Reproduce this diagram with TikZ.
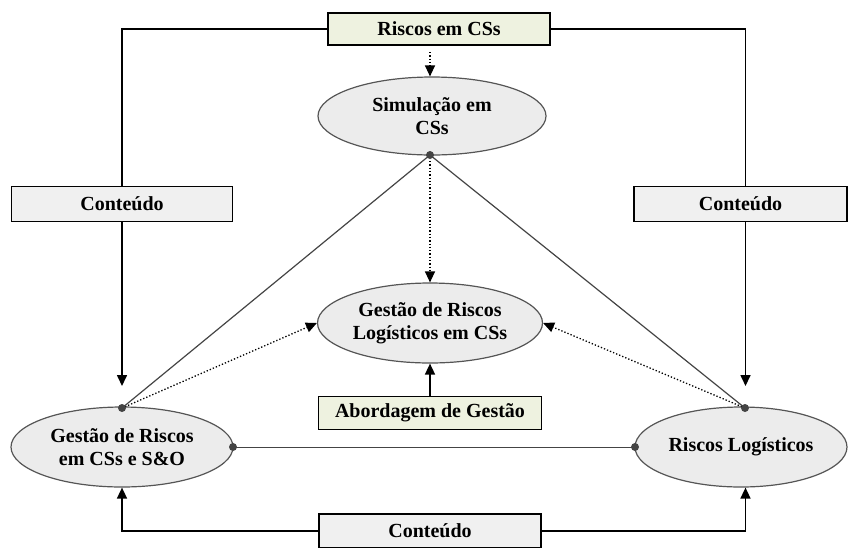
\documentclass[tikz,border=0pt]{standalone}
\usepackage{fontspec}
\setmainfont{Liberation Serif}
\usetikzlibrary{shapes.geometric,arrows.meta}
\definecolor{boxgreen}{HTML}{EEF2E0}
\definecolor{boxgray}{HTML}{F0F0F0}
\definecolor{ellfill}{HTML}{ECECEC}
\definecolor{ellline}{HTML}{555555}
\definecolor{linkgray}{HTML}{444444}
\begin{document}
\begin{tikzpicture}[x=1pt,y=-1pt,
  every node/.style={font=\fontsize{20}{23}\selectfont\bfseries, align=center},
  topic/.style={ellipse, draw=ellline, line width=1.2pt, fill=ellfill, inner sep=0pt},
  labelbox/.style={rectangle, draw=black, line width=1.6pt, inner sep=0pt, minimum height=33pt},
  greenbox/.style={labelbox, fill=boxgreen},
  graybox/.style={labelbox, fill=boxgray},
  flow/.style={line width=1.6pt, draw=black, -{Triangle[length=11pt,width=10pt]}},
  plainflow/.style={line width=1.6pt, draw=black},
  hint/.style={dotted, line width=1.3pt, draw=black, -{Triangle[length=11pt,width=10pt]}},
  link/.style={line width=1.2pt, draw=linkgray},
  joint/.style={circle, fill=linkgray, inner sep=0pt, minimum size=8pt}
]
\useasboundingbox (0,0) rectangle (848,547);

% themes
\node[topic, minimum width=228pt, minimum height=78pt] (sim) at (432,116) {Simulação em\\CSs};
\node[topic, minimum width=225pt, minimum height=80pt] (core) at (430,323) {Gestão de Riscos\\Logísticos em CSs};
\node[topic, minimum width=222pt, minimum height=80pt] (left) at (122,447) {Gestão de Riscos\\em CSs e S\&O};
\node[topic, minimum width=212pt, minimum height=80pt] (right) at (741,447) {Riscos Logísticos};

% labels
\node[greenbox, minimum width=222pt, minimum height=32pt] (risk) at (439,29) {Riscos em CSs};
\node[greenbox, minimum width=223pt] (appr) at (430,413) {Abordagem de Gestão};
\node[graybox, minimum width=221pt, minimum height=35pt] (cl) at (122,204) {Conteúdo};
\node[graybox, minimum width=213pt, minimum height=35pt] (cr) at (740.5,204) {Conteúdo};
\node[graybox, minimum width=222pt, minimum height=34pt] (cb) at (430,531) {Conteúdo};

% joints
\coordinate (jsim) at (430,155);
\coordinate (jl) at (122,408);
\coordinate (jr) at (745,408);
\coordinate (jlr) at (233,447);
\coordinate (jrl) at (635,447);

% content flows
\draw[plainflow] (risk.west) -- (122,29) -- (cl.north -| 122,0);
\draw[flow] (cl.south -| 122,0) -- (122,386);
\draw[plainflow] (risk.east) -- (745.5,29) -- (cr.north -| 745.5,0);
\draw[flow] (cr.south -| 745.5,0) -- (745.5,386);
\draw[flow] (cb.west) -- (122,531) -- (left.south -| 122,0);
\draw[flow] (cb.east) -- (745.5,531) -- (right.south -| 745.5,0);
\draw[flow] (appr.north) -- (core.south);

% hints
\draw[hint] (430,52) -- (sim.north -| 430,0);
\draw[hint] (jsim) ++(0,6) -- (core.north -| 430,0);
\draw[hint] (jl) -- (core.west);
\draw[hint] (jr) -- (core.east);

% triangle of links
\draw[link] (jsim) -- (jl);
\draw[link] (jsim) -- (jr);
\draw[link, line width=0.9pt] (jlr) -- (jrl);

\node[joint] (djsim) at (jsim) {};
\node[joint] (djl) at (jl) {};
\node[joint] (djr) at (jr) {};
\node[joint] (djlr) at (jlr) {};
\node[joint] (djrl) at (jrl) {};
\end{tikzpicture}
\end{document}
